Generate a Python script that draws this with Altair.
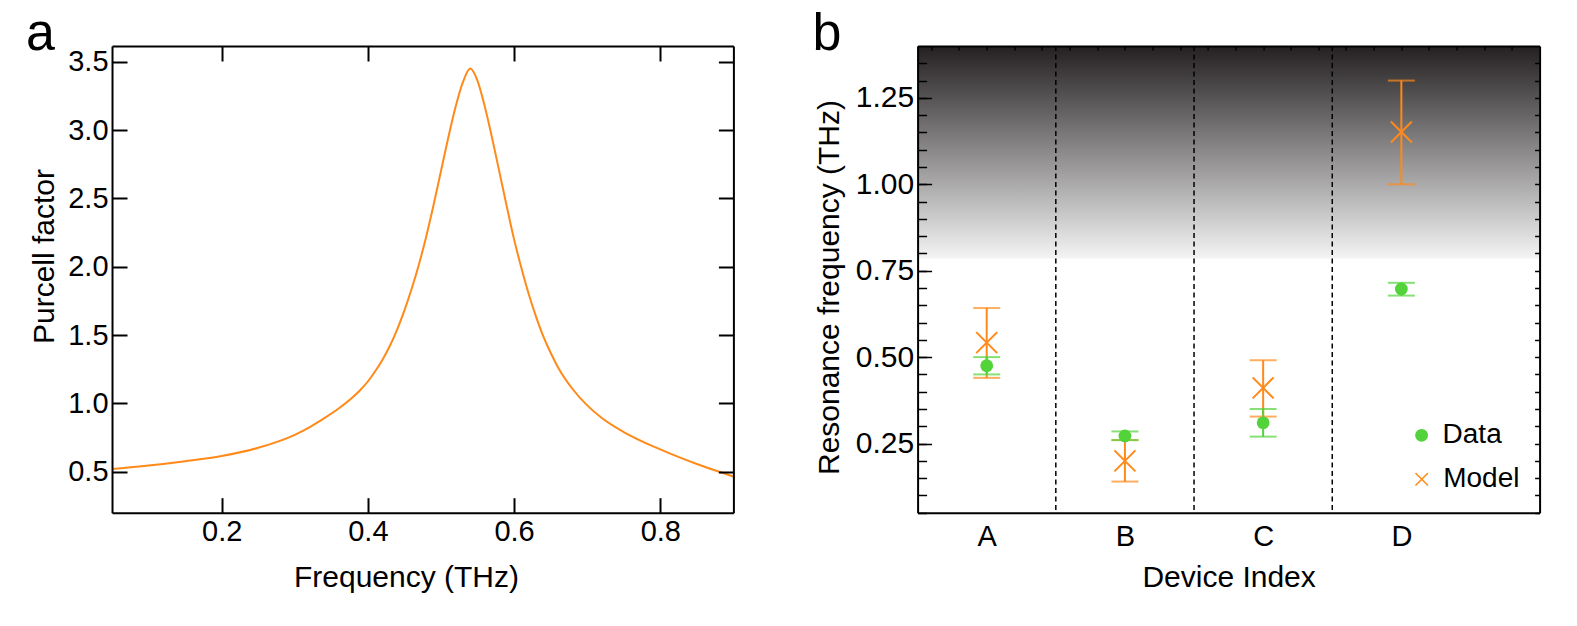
import altair as alt
import pandas as pd

# ---------------- data: panel a (Purcell factor curve) ----------------
freq_thz = [0.05, 0.10, 0.15, 0.20, 0.25, 0.30, 0.32, 0.34, 0.36, 0.38, 0.39, 0.40,
            0.41, 0.42, 0.43, 0.44, 0.45, 0.46, 0.47, 0.48, 0.49, 0.50, 0.51, 0.52,
            0.53, 0.54, 0.55, 0.56, 0.57, 0.58, 0.59, 0.60, 0.61, 0.62, 0.63, 0.64,
            0.65, 0.66, 0.68, 0.70, 0.72, 0.75, 0.80, 0.85, 0.90]
purcell = [0.52, 0.545, 0.577, 0.615, 0.675, 0.77, 0.825, 0.89, 0.962, 1.048, 1.10, 1.16,
           1.235, 1.32, 1.42, 1.54, 1.68, 1.84, 2.02, 2.225, 2.455, 2.70, 2.945, 3.17,
           3.35, 3.45, 3.36, 3.17, 2.94, 2.69, 2.44, 2.20, 1.99, 1.80, 1.635, 1.49,
           1.37, 1.265, 1.105, 0.985, 0.893, 0.79, 0.663, 0.556, 0.465]

# ---------------- data: panel b (resonance frequencies) ----------------
devices = ["A", "B", "C", "D"]
data_f = [0.475, 0.272, 0.310, 0.697]
data_lo = [0.450, 0.260, 0.270, 0.678]
data_hi = [0.500, 0.285, 0.350, 0.715]
model_f = [0.542, 0.200, 0.411, 1.151]
model_lo = [0.440, 0.140, 0.328, 1.000]
model_hi = [0.642, 0.260, 0.491, 1.300]
separators = [1.5, 2.5, 3.5]
shade_lo = [0.785]
shade_hi = [1.4]
panel_tags = ["a", "b"]

FONT = "Liberation Sans"
ORANGE = "#ff8a1a"
GREEN = "#52d33a"
XPATH = "M-1,-1L1,1M-1,1L1,-1"

W_A, W_B, H = 621.4, 622, 466.7
GAP = 183.6


def tick_axis(orient, values, size, width=2.0, domain=False):
    return alt.Axis(orient=orient, values=values, labels=False, domain=domain,
                    domainWidth=2, domainColor="black", ticks=True,
                    tickSize=alt.ExprRef(expr=str(-size)), tickWidth=width,
                    tickColor="black", title=None, grid=False, zindex=1)


def tag_layer(tag, dx):
    return alt.Chart(pd.DataFrame({"tag": [tag]})).mark_text(
        font=FONT, fontSize=52, color="black", align="left", baseline="alphabetic"
    ).encode(text="tag:N", x=alt.value(dx), y=alt.value(4))


# ---------------- panel a ----------------
df_a = pd.DataFrame({"f": freq_thz, "p": purcell})
xa = alt.Scale(domain=[0.05, 0.9], nice=False, zero=False)
ya = alt.Scale(domain=[0.2, 3.615], nice=False, zero=False)
xa_vals = [0.2, 0.4, 0.6, 0.8]
ya_vals = [0.5, 1.0, 1.5, 2.0, 2.5, 3.0, 3.5]

base_a = alt.Chart(df_a)
line_main = base_a.mark_line(color=ORANGE, strokeWidth=2, interpolate="monotone").encode(
    x=alt.X("f:Q", scale=xa, axis=alt.Axis(
        orient="bottom", values=xa_vals, format=".1f", ticks=False, domain=True,
        domainWidth=2, domainColor="black", labelFont=FONT, labelFontSize=29,
        labelColor="black", labelPadding=5, title="Frequency (THz)", titleFont=FONT,
        titleFontSize=30, titleFontWeight="normal", titleColor="black",
        titleAlign="center", titleBaseline="alphabetic", titleX=294, titleY=74,
        grid=False, zindex=1)),
    y=alt.Y("p:Q", scale=ya, axis=alt.Axis(
        orient="left", values=ya_vals, format=".1f", ticks=False, domain=True,
        domainWidth=2, domainColor="black", labelFont=FONT, labelFontSize=29,
        labelColor="black", labelPadding=4, title="Purcell factor", titleFont=FONT,
        titleFontSize=30, titleFontWeight="normal", titleColor="black",
        titleAngle=270, titleAlign="center", titleBaseline="alphabetic",
        titleX=-59, titleY=210, grid=False, zindex=1)),
)
line_t1 = base_a.mark_line(opacity=0).encode(
    x=alt.X("f:Q", scale=xa, axis=tick_axis("bottom", xa_vals, 15)),
    y=alt.Y("p:Q", scale=ya, axis=tick_axis("left", ya_vals, 15)),
)
line_t2 = base_a.mark_line(opacity=0).encode(
    x=alt.X("f:Q", scale=xa, axis=tick_axis("top", xa_vals, 15, domain=True)),
    y=alt.Y("p:Q", scale=ya, axis=tick_axis("right", ya_vals, 15, domain=True)),
)
panel_a = alt.layer(line_t1, line_t2, line_main, tag_layer(panel_tags[0], -86)).resolve_axis(
    x="independent", y="independent"
).properties(width=W_A, height=H)

# ---------------- panel b ----------------
pos = [i + 1 for i in range(len(devices))]
df_data = pd.DataFrame({"pos": pos, "device": devices, "val": data_f,
                        "lo": data_lo, "hi": data_hi, "series": "Data"})
df_model = pd.DataFrame({"pos": pos, "device": devices, "val": model_f,
                         "lo": model_lo, "hi": model_hi, "series": "Model"})


def caps(df):
    a = df[["pos", "lo"]].rename(columns={"lo": "cap"})
    b = df[["pos", "hi"]].rename(columns={"hi": "cap"})
    return pd.concat([a, b], ignore_index=True)


df_shade = pd.DataFrame({"lo": shade_lo, "hi": shade_hi})
df_sep = pd.DataFrame({"x": separators})

xb = alt.Scale(domain=[0.5, 5.0], nice=False, zero=False)
yb = alt.Scale(domain=[0.05, 1.4], nice=False, zero=False)
yb_major = [0.25, 0.5, 0.75, 1.0, 1.25]
yb_minor = [round(0.05 * i, 2) for i in range(1, 28)]
xb_minor = [round(0.6 + 0.2 * i, 1) for i in range(22)]

gradient = alt.Gradient(
    gradient="linear",
    stops=[alt.GradientStop(color="#f4f4f4", offset=0),
           alt.GradientStop(color="#242021", offset=1)],
    x1=0, x2=0, y1=1, y2=0,
)

shade = alt.Chart(df_shade).mark_rect(color=gradient).encode(
    x=alt.value(0), x2=alt.value("width"),
    y=alt.Y("lo:Q", scale=yb, axis=alt.Axis(
        orient="left", values=yb_major, format=".2f", ticks=False, domain=True,
        domainWidth=2, domainColor="black", labelFont=FONT, labelFontSize=30,
        labelColor="black", labelPadding=4, title="Resonance frequency (THz)",
        titleFont=FONT, titleFontSize=30, titleFontWeight="normal", titleColor="black",
        titleAngle=270, titleAlign="center", titleBaseline="alphabetic",
        titleX=-79, titleY=241, grid=False, zindex=1)),
    y2="hi:Q",
)

seps = alt.Chart(df_sep).mark_rule(color="black", strokeWidth=1.5, strokeDash=[5, 3.5]).encode(
    x=alt.X("x:Q", scale=xb, axis=alt.Axis(
        orient="bottom", values=pos, labelExpr="['', 'A', 'B', 'C', 'D'][datum.value]",
        ticks=False, domain=True, domainWidth=2, domainColor="black", labelFont=FONT,
        labelFontSize=29, labelColor="black", labelPadding=10, title="Device Index",
        titleFont=FONT, titleFontSize=30, titleFontWeight="normal", titleColor="black",
        titleBaseline="alphabetic", titleY=74, grid=False, zindex=1)),
)

model_bars = alt.Chart(df_model).mark_rule(color=ORANGE, strokeWidth=2).encode(
    x=alt.X("pos:Q", scale=xb, axis=tick_axis("top", xb_minor, 4, width=1.5, domain=True)),
    y=alt.Y("lo:Q", scale=yb, axis=tick_axis("left", yb_major, 14, width=1.5)),
    y2="hi:Q",
)
data_bars = alt.Chart(df_data).mark_rule(color=GREEN, strokeWidth=2).encode(
    x=alt.X("pos:Q", scale=xb, axis=None),
    y=alt.Y("lo:Q", scale=yb, axis=tick_axis("left", yb_minor, 9, width=1.5)),
    y2="hi:Q",
)
model_caps = alt.Chart(caps(df_model)).mark_tick(
    color=ORANGE, orient="horizontal", size=27, thickness=2).encode(
    x=alt.X("pos:Q", scale=xb, axis=None),
    y=alt.Y("cap:Q", scale=yb, axis=tick_axis("right", yb_minor, 5, width=1.5, domain=True)),
)
data_caps = alt.Chart(caps(df_data)).mark_tick(
    color=GREEN, orient="horizontal", size=27, thickness=2).encode(
    x=alt.X("pos:Q", scale=xb, axis=None),
    y=alt.Y("cap:Q", scale=yb, axis=None),
)

# legends of a concatenated chart are placed relative to the first panel's origin
LEG_X = W_A + GAP + 490.6
data_pts = alt.Chart(df_data).mark_point(filled=True, shape="circle", size=164, opacity=1).encode(
    x=alt.X("pos:Q", scale=xb, axis=None),
    y=alt.Y("val:Q", scale=yb, axis=None),
    fill=alt.Fill("series:N", scale=alt.Scale(domain=["Data"], range=[GREEN]),
                  legend=alt.Legend(orient="none", legendX=LEG_X, legendY=375.3,
                                    title=None, labelFont=FONT, labelFontSize=28,
                                    labelColor="black", symbolType="circle",
                                    symbolSize=164, labelOffset=7, padding=0)),
)
model_pts = alt.Chart(df_model).mark_point(filled=False, shape=XPATH, size=441,
                                           strokeWidth=2, opacity=1).encode(
    x=alt.X("pos:Q", scale=xb, axis=None),
    y=alt.Y("val:Q", scale=yb, axis=None),
    stroke=alt.Stroke("series:N", scale=alt.Scale(domain=["Model"], range=[ORANGE]),
                      legend=alt.Legend(orient="none", legendX=LEG_X + 0.15, legendY=419.3,
                                        title=None, labelFont=FONT, labelFontSize=28,
                                        labelColor="black", symbolType=XPATH,
                                        symbolSize=156, symbolStrokeWidth=1.5,
                                        labelOffset=7.5, padding=0)),
)

panel_b = alt.layer(shade, seps, model_bars, data_bars, model_caps, data_caps,
                    data_pts, model_pts, tag_layer(panel_tags[1], -105)).resolve_axis(
    x="independent", y="independent"
).properties(width=W_B, height=H)

chart = alt.hconcat(panel_a, panel_b, spacing=GAP, bounds="flush").properties(
    padding={"left": 18, "top": 0, "right": 5, "bottom": 5}
).configure_view(stroke=None)

chart.save("out.html", embed_options={"renderer": "svg", "actions": False})
